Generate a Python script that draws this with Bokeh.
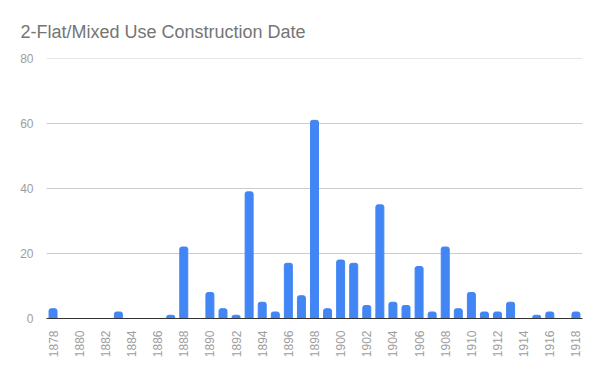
from bokeh.plotting import figure
from bokeh.models import FixedTicker, Range1d
from bokeh.embed import file_html
from bokeh.resources import INLINE
import math

years = list(range(1878, 1919))
counts = [3, 0, 0, 0, 0, 2, 0, 0, 0, 1,
          22, 0, 8, 3, 1, 39, 5, 2, 17, 7,
          61, 3, 18, 17, 4, 35, 5, 4, 16, 2,
          22, 3, 8, 2, 2, 5, 0, 1, 2, 0,
          2]
x_ticks = list(range(1878, 1919, 2))
y_ticks = [0, 20, 40, 60, 80]
title_text = "2-Flat/Mixed Use Construction Date"

p = figure(width=600, height=371, output_backend="svg",
           toolbar_location=None, tools="",
           min_border_left=46, min_border_right=18,
           min_border_top=58, min_border_bottom=53)
p.x_range = Range1d(years[0] - 0.5, years[-1] + 0.5)
p.y_range = Range1d(0, 80.05)

p.vbar(x=years, top=counts, width=0.61, color="#4285F4",
       border_radius=(2, 2, 0, 0))

p.title.text = title_text
p.title.text_font = "Liberation Sans"
p.title.text_font_size = "18px"
p.title.text_font_style = "normal"
p.title.text_color = "#757575"
p.title.offset = -26
p.title.standoff = 33

p.outline_line_color = None
p.background_fill_color = "white"
p.border_fill_color = "white"

p.xgrid.grid_line_color = None
p.ygrid.grid_line_color = "#cccccc"
p.ygrid.grid_line_width = 1

p.yaxis.ticker = FixedTicker(ticks=y_ticks)
p.yaxis.axis_line_color = None
p.yaxis.major_tick_line_color = None
p.yaxis.minor_tick_line_color = None
p.yaxis.major_label_text_color = "#9e9e9e"
p.yaxis.major_label_text_font = "Liberation Sans"
p.yaxis.major_label_text_font_size = "12px"
p.yaxis.major_label_standoff = 7

p.xaxis.ticker = FixedTicker(ticks=x_ticks)
p.xaxis.axis_line_color = "#333333"
p.xaxis.axis_line_width = 1
p.xaxis.major_tick_line_color = None
p.xaxis.minor_tick_line_color = None
p.xaxis.major_label_orientation = math.pi / 2
p.xaxis.major_label_text_color = "#9e9e9e"
p.xaxis.major_label_text_font = "Liberation Sans"
p.xaxis.major_label_text_font_size = "12px"
p.xaxis.major_label_standoff = 6

open("out.html", "w").write(file_html(p, INLINE))
